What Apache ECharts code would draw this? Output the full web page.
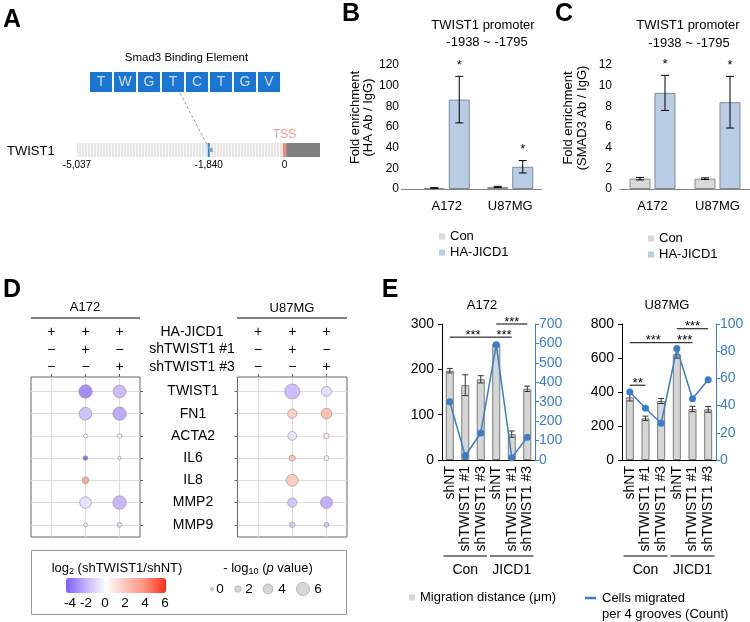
<!DOCTYPE html>
<html>
<head>
<meta charset="utf-8">
<title>JICD1 / TWIST1</title>
<script src="https://cdn.jsdelivr.net/npm/echarts@6/dist/echarts.min.js"></script>
<style>
  html, body { margin: 0; padding: 0; background: #fff; }
  #chart { width: 750px; height: 622px; }
</style>
</head>
<body>
<div id="chart"></div>
<script>
// ---------- A : promoter map ----------
var sbeLetters = ['T', 'W', 'G', 'T', 'C', 'T', 'G', 'V'];
var promoterStart = -5037;
var sbeSite = -1840;
var tssSite = 0;
var geneBodyEnd = 860;
var promoterTicks = [-5037, -1840, 0];

// ---------- B / C : ChIP enrichment ----------
var chipCells = ['A172', 'U87MG'];
var haCon = [1.0, 2.0];
var haConErr = [0.3, 0.6];
var haJicd = [86.5, 21.5];
var haJicdErr = [22.5, 6];
var haStars = ['*', '*'];
var smadCon = [1.0, 1.0];
var smadConErr = [0.12, 0.08];
var smadJicd = [9.3, 8.4];
var smadJicdErr = [1.7, 2.5];
var smadStars = ['*', '*'];

// ---------- D : bubble plot ----------
var geneNames = ['TWIST1', 'FN1', 'ACTA2', 'IL6', 'IL8', 'MMP2', 'MMP9'];
var condRows = ['HA-JICD1', 'shTWIST1 #1', 'shTWIST1 #3'];
var condSigns = [['+', '+', '+'], ['\u2212', '+', '\u2212'], ['\u2212', '\u2212', '+']];
// [column, gene row, log2(shTWIST1/shNT), -log10 p]
var a172Bubbles = [
  [1, 0, -2.9, 6.1], [1, 1, -1.6, 5.7], [1, 2, -0.3, 0.6], [1, 3, -3.8, 1.0],
  [1, 4, 3.0, 2.2], [1, 5, -0.8, 5.1], [1, 6, -0.7, 0.6],
  [2, 0, -1.8, 5.7], [2, 1, -2.2, 6.1], [2, 2, -0.3, 1.0], [2, 3, -0.7, 0.2],
  [2, 5, -1.9, 6.1], [2, 6, -1.0, 1.0]
];
var u87Bubbles = [
  [1, 0, -1.7, 7.1], [1, 1, 1.7, 3.7], [1, 2, -0.8, 3.4], [1, 3, 2.0, 1.8],
  [1, 4, 1.8, 5.3], [1, 5, -1.5, 3.7], [1, 6, -1.4, 1.4],
  [2, 0, -0.9, 4.1], [2, 1, 2.2, 4.5], [2, 2, 0.8, 1.4], [2, 3, 0.6, 1.2],
  [2, 5, -2.1, 5.3], [2, 6, -1.6, 1.0]
];
var colorTicks = [-4, -2, 0, 2, 4, 6];
var sizeTicks = [0, 2, 4, 6];

// ---------- E : migration ----------
var migCats = ['shNT', 'shTWIST1 #1', 'shTWIST1 #3', 'shNT', 'shTWIST1 #1', 'shTWIST1 #3'];
var migGroups = ['Con', 'JICD1'];
var migGroupSpans = [[0, 2], [3, 5]];
var a172Dist = [197, 165, 178, 256, 57, 157];
var a172DistErr = [5, 23, 8, 2, 7, 6];
var a172Cells = [300, 22, 139, 593, 12, 117];
var u87Dist = [369, 245, 347, 622, 300, 298];
var u87DistErr = [22, 13, 15, 23, 16, 17];
var u87Cells = [50, 38, 27, 82, 45, 59];
// [from, to, height on distance axis, stars]
var a172Sig = [[0, 3, 271, '***'], [3, 4, 271, '***'], [3, 5, 300, '***']];
var u87Sig = [[0, 1, 440, '**'], [0, 3, 690, '***'], [3, 4, 690, '***'], [3, 5, 772, '***']];

var FONT = '"Liberation Sans", Arial, Helvetica, sans-serif';
var BLUE = '#3a7dc9';

function pSize(p) { return 3 + 1.7 * p; }

var gfx = [];
function addText(x, y, text, size, more, elMore) {
  var style = { text: text, fontSize: size, fontFamily: FONT, fill: '#000',
    align: 'center', verticalAlign: 'middle', textAlign: 'center', textVerticalAlign: 'middle' };
  for (var k in (more || {})) style[k] = more[k];
  if (more && more.align) style.textAlign = more.align;
  var el = { type: 'text', x: x, y: y, silent: true, style: style };
  for (var j in (elMore || {})) el[j] = elMore[j];
  gfx.push(el);
}
function addLine(x1, y1, x2, y2, color, width) {
  gfx.push({ type: 'line', silent: true, shape: { x1: x1, y1: y1, x2: x2, y2: y2 },
    style: { stroke: color || '#000', lineWidth: width || 1 } });
}

// panel letters
addText(12, 20.5, 'A', 25, { fontWeight: 'bold' });
addText(351, 14, 'B', 25, { fontWeight: 'bold' });
addText(564, 14, 'C', 25, { fontWeight: 'bold' });
addText(12, 290, 'D', 25, { fontWeight: 'bold' });
addText(390, 290, 'E', 25, { fontWeight: 'bold' });

// A
addText(186.5, 58, 'Smad3 Binding Element', 11.5);
sbeLetters.forEach(function (ch, i) {
  gfx.push({ type: 'rect', silent: true, shape: { x: 90 + 24 * i, y: 72, width: 22, height: 20 },
    style: { fill: '#1976d2' } });
  addText(101 + 24 * i, 82.5, ch, 14, { fill: '#d5dbe3' });
});
addText(7, 151.5, 'TWIST1', 13, { align: 'left' });

// B / C titles and axis names
addText(483, 25, 'TWIST1 promoter', 13);
addText(487, 42.5, '-1938 ~ -1795', 13);
addText(362, 117.5, 'Fold enrichment\n(HA Ab / IgG)', 13, { lineHeight: 13 }, { rotation: Math.PI / 2 });
addLine(401, 189.5, 415, 189.5, '#868686');
addText(688, 25, 'TWIST1 promoter', 13);
addText(689, 43, '-1938 ~ -1795', 13);
addText(575, 118, 'Fold enrichment\n(SMAD3 Ab / IgG)', 13, { lineHeight: 14 }, { rotation: Math.PI / 2 });

// D headers
addText(85, 307, 'A172', 13);
addLine(31, 318, 140, 318);
addText(292, 308, 'U87MG', 13);
addLine(237, 318, 347, 318);
condRows.forEach(function (r, i) { addText(192, 332 + 17.5 * i, r, 14); });

// D legend
gfx.push({ type: 'rect', silent: true, shape: { x: 31.5, y: 550.5, width: 315, height: 64 },
  style: { fill: 'none', stroke: '#9a9a9a', lineWidth: 1 } });
addText(117, 568, 'log{sub|2} (shTWIST1/shNT)', 13,
  { rich: { sub: { fontSize: 9, fontFamily: FONT, verticalAlign: 'bottom', lineHeight: 16 } } });
var colorTickX = [70, 86, 105, 125, 145, 165];
colorTicks.forEach(function (v, i) { addText(colorTickX[i], 603, String(v), 13.5); });
addText(268, 568, '- log{sub|10} ({it|p} value)', 13,
  { rich: { sub: { fontSize: 9, fontFamily: FONT, verticalAlign: 'bottom', lineHeight: 16 },
            it: { fontSize: 13, fontFamily: FONT, fontStyle: 'italic' } } });
var sizeCircleX = [212, 238, 268, 303];
var sizeLabelX = [220, 249, 282, 318];
sizeTicks.forEach(function (p, i) {
  gfx.push({ type: 'circle', silent: true, shape: { cx: sizeCircleX[i], cy: 589, r: pSize(p) / 2 },
    style: { fill: '#d6d6d6', stroke: '#a8a8a8', lineWidth: 0.7 } });
  addText(sizeLabelX[i], 589, String(p), 13.5);
});

// E titles and line legend
addText(482, 305, 'A172', 13);
addText(667, 305, 'U87MG', 13);
addLine(585, 598, 596, 598, BLUE, 2.5);
addText(602, 598, 'Cells migrated', 13, { align: 'left' });
addText(602, 614, 'per 4 grooves (Count)', 13, { align: 'left' });

// ---------- series builders ----------
function chipErrSeries(idx, con, conErr, ha, haErr, stars) {
  var items = [];
  con.forEach(function (v, i) { items.push([i, v - conErr[i], v + conErr[i], -1]); });
  ha.forEach(function (v, i) { items.push([i, v - haErr[i], v + haErr[i], 1]); });
  return {
    type: 'custom', xAxisIndex: idx, yAxisIndex: idx, z: 5, silent: true, data: items,
    renderItem: function (params, api) {
      var cat = api.value(0), side = api.value(3);
      var lo = api.coord([cat, api.value(1)]), hi = api.coord([cat, api.value(2)]);
      var x = lo[0] + side * 12.5;
      var st = { stroke: '#000', lineWidth: 1 };
      var kids = [
        { type: 'line', shape: { x1: x, y1: lo[1], x2: x, y2: hi[1] }, style: st },
        { type: 'line', shape: { x1: x - 4, y1: hi[1], x2: x + 4, y2: hi[1] }, style: st },
        { type: 'line', shape: { x1: x - 4, y1: lo[1], x2: x + 4, y2: lo[1] }, style: st }
      ];
      if (side > 0 && stars[cat]) {
        kids.push({ type: 'text', x: x, y: hi[1] - 11, style: { text: stars[cat], fontSize: 13,
          fontFamily: FONT, fill: '#000', align: 'center', verticalAlign: 'middle' } });
      }
      return { type: 'group', children: kids };
    }
  };
}

function chipBars(idx, con, ha) {
  var common = { type: 'bar', xAxisIndex: idx, yAxisIndex: idx, barWidth: 21, barGap: '19%', silent: true };
  return [
    Object.assign({ name: 'Con', data: con,
      itemStyle: { color: '#d9d9d9', borderColor: '#8c8c8c', borderWidth: 1 } }, common),
    Object.assign({ name: 'HA-JICD1', data: ha,
      itemStyle: { color: '#b9cde5', borderColor: '#7f8a99', borderWidth: 1 } }, common)
  ];
}

function migrationSeries(xi, yl, yr, dist, distErr, cells, sig) {
  return [
    { type: 'bar', name: 'Migration distance (\u03bcm)', xAxisIndex: xi, yAxisIndex: yl, data: dist,
      barWidth: 8, silent: true,
      itemStyle: { color: '#d6d6d6', borderColor: '#7a7a7a', borderWidth: 1 } },
    { type: 'custom', xAxisIndex: xi, yAxisIndex: yl, z: 4, silent: true,
      data: dist.map(function (v, i) { return [i, v - distErr[i], v + distErr[i]]; }),
      renderItem: function (params, api) {
        var lo = api.coord([api.value(0), api.value(1)]), hi = api.coord([api.value(0), api.value(2)]);
        var st = { stroke: '#333', lineWidth: 1 };
        return { type: 'group', children: [
          { type: 'line', shape: { x1: lo[0], y1: lo[1], x2: hi[0], y2: hi[1] }, style: st },
          { type: 'line', shape: { x1: hi[0] - 3, y1: hi[1], x2: hi[0] + 3, y2: hi[1] }, style: st },
          { type: 'line', shape: { x1: lo[0] - 3, y1: lo[1], x2: lo[0] + 3, y2: lo[1] }, style: st }
        ] };
      } },
    { type: 'line', name: 'Cells migrated per 4 grooves (Count)', xAxisIndex: xi, yAxisIndex: yr,
      data: cells, z: 6, silent: true, symbol: 'circle', symbolSize: 7,
      lineStyle: { color: BLUE, width: 1.5 }, itemStyle: { color: BLUE } },
    { type: 'custom', xAxisIndex: xi, yAxisIndex: yl, z: 7, silent: true,
      data: sig.map(function (s) { return [s[0], s[2]]; }),
      renderItem: function (params, api) {
        var s = sig[params.dataIndex];
        var p0 = api.coord([s[0], s[2]]), p1 = api.coord([s[1], s[2]]);
        return { type: 'group', children: [
          { type: 'line', shape: { x1: p0[0], y1: p0[1], x2: p1[0], y2: p1[1] },
            style: { stroke: '#000', lineWidth: 1 } },
          { type: 'text', x: (p0[0] + p1[0]) / 2, y: p0[1] - 2,
            style: { text: s[3], fontSize: 13, fontFamily: FONT, fill: '#000',
              align: 'center', verticalAlign: 'middle' } }
        ] };
      } },
    { type: 'custom', xAxisIndex: xi, yAxisIndex: yl, silent: true,
      data: migGroupSpans.map(function (g) { return [g[0], 0]; }),
      renderItem: function (params, api) {
        var g = migGroupSpans[params.dataIndex];
        var band = api.size([1, 0])[0];
        var base = api.coord([0, 0])[1];
        var xa = api.coord([g[0], 0])[0] - band / 2 + 1.5;
        var xb = api.coord([g[1], 0])[0] + band / 2 - 1.5;
        return { type: 'group', children: [
          { type: 'line', shape: { x1: xa, y1: base + 96, x2: xb, y2: base + 96 },
            style: { stroke: '#000', lineWidth: 1 } },
          { type: 'text', x: (xa + xb) / 2, y: base + 110,
            style: { text: migGroups[params.dataIndex], fontSize: 14, fontFamily: FONT, fill: '#000',
              align: 'center', verticalAlign: 'middle' } }
        ] };
      } }
  ];
}

function chipY(idx, max, step, margin) {
  return { gridIndex: idx, type: 'value', min: 0, max: max, interval: step,
    axisLine: { show: false }, axisTick: { show: false }, splitLine: { show: false },
    axisLabel: { fontSize: 12, color: '#000', margin: margin } };
}
function chipX(idx) {
  return { gridIndex: idx, type: 'category', data: chipCells,
    axisLine: { lineStyle: { color: '#868686' } },
    axisTick: { inside: true, length: 5, lineStyle: { color: '#868686' } },
    axisLabel: { fontSize: 13, color: '#000', margin: 11 } };
}
function bubbleX(idx) {
  return { gridIndex: idx, type: 'value', min: -0.6, max: 2.6, position: 'top',
    axisLine: { show: false, onZero: false },
    axisTick: { show: true, customValues: [0, 1, 2], length: 3, lineStyle: { color: '#666' } },
    axisLabel: { customValues: [0, 1, 2], fontSize: 14, color: '#000', margin: 1, lineHeight: 17.5,
      formatter: function (v) {
        if (v !== Math.round(v)) return '';
        return condSigns.map(function (r) { return r[v]; }).join('\n');
      } },
    splitLine: { show: true, lineStyle: { color: '#dcdcdc' } } };
}
function bubbleY(idx, pos, showLabels) {
  return { gridIndex: idx, type: 'value', inverse: true, min: -0.65, max: 6.55, position: pos,
    axisLine: { show: false, onZero: false },
    axisTick: { show: true, customValues: [0, 1, 2, 3, 4, 5, 6], length: 3, lineStyle: { color: '#666' } },
    axisLabel: { show: showLabels, customValues: [0, 1, 2, 3, 4, 5, 6], fontSize: 14, color: '#000',
      align: 'center', margin: 53,
      formatter: function (v) { return v === Math.round(v) ? (geneNames[v] || '') : ''; } },
    splitLine: { show: true, lineStyle: { color: '#dcdcdc' } } };
}
function migX(idx) {
  return { gridIndex: idx, type: 'category', data: migCats,
    axisLine: { lineStyle: { color: '#000' } },
    axisTick: { inside: true, length: 3, interval: 0, lineStyle: { color: '#000' } },
    axisLabel: { rotate: 90, interval: 0, fontSize: 14, color: '#000', margin: 6 } };
}
function migY(idx, pos, max, step, color) {
  return { gridIndex: idx, type: 'value', position: pos, min: 0, max: max, interval: step,
    axisLine: { show: true, lineStyle: { color: color } },
    axisTick: { show: true, length: 4, lineStyle: { color: color } },
    splitLine: { show: false },
    axisLabel: { fontSize: 14, color: color, margin: pos === 'left' ? 8 : 4 } };
}

var series = [
  { type: 'custom', xAxisIndex: 0, yAxisIndex: 0, silent: true, data: [[promoterStart, 0]],
    renderItem: function (params, api) {
      var top = api.coord([promoterStart, 1])[1], bottom = api.coord([promoterStart, 0])[1];
      var h = bottom - top;
      var x0 = api.coord([promoterStart, 0])[0];
      var xT0 = api.coord([tssSite - 40, 0])[0], xT1 = api.coord([tssSite + 40, 0])[0];
      var xEnd = api.coord([geneBodyEnd, 0])[0];
      var xS = api.coord([sbeSite, 0])[0];
      var kids = [{ type: 'rect', shape: { x: x0, y: top, width: xT0 - x0, height: h }, style: { fill: '#e6e6e6' } }];
      for (var x = x0 + 1.5; x < xT0 - 1; x += 3) {
        kids.push({ type: 'line', shape: { x1: x, y1: top, x2: x, y2: bottom }, style: { stroke: '#f6f6f6', lineWidth: 1 } });
      }
      kids.push({ type: 'rect', shape: { x: xT0, y: top, width: xT1 - xT0, height: h }, style: { fill: '#f28b7c' } });
      kids.push({ type: 'rect', shape: { x: xT1, y: top, width: xEnd - xT1, height: h }, style: { fill: '#808080' } });
      kids.push({ type: 'rect', shape: { x: xS - 1, y: top, width: 2, height: h }, style: { fill: '#1e88e5' } });
      kids.push({ type: 'line', shape: { x1: 180, y1: 93, x2: xS + 1, y2: top + 7 },
        style: { stroke: '#9e9e9e', lineWidth: 1, lineDash: [3, 2] } });
      kids.push({ type: 'rect', shape: { x: xS + 0.5, y: top + 5, width: 3.5, height: 4 }, style: { fill: '#9e9e9e' } });
      kids.push({ type: 'text', x: (xT0 + xT1) / 2, y: top - 8,
        style: { text: 'TSS', fontSize: 12, fontFamily: FONT, fill: '#f4998c', align: 'center', verticalAlign: 'middle' } });
      return { type: 'group', children: kids };
    } }
];
series = series.concat(chipBars(1, haCon, haJicd));
series.push(chipErrSeries(1, haCon, haConErr, haJicd, haJicdErr, haStars));
series = series.concat(chipBars(2, smadCon, smadJicd));
series.push(chipErrSeries(2, smadCon, smadConErr, smadJicd, smadJicdErr, smadStars));
var bubbleSeriesStart = series.length;
[a172Bubbles, u87Bubbles].forEach(function (d, i) {
  series.push({ type: 'scatter', xAxisIndex: 3 + i, yAxisIndex: 3 + i, data: d, silent: true,
    symbol: 'circle', symbolSize: function (val) { return pSize(val[3]); },
    itemStyle: { borderColor: '#9a9a9a', borderWidth: 0.7, opacity: 1 } });
});
series = series.concat(migrationSeries(5, 5, 6, a172Dist, a172DistErr, a172Cells, a172Sig));
series = series.concat(migrationSeries(6, 7, 8, u87Dist, u87DistErr, u87Cells, u87Sig));

var chipLegend = { data: ['Con', 'HA-JICD1'], orient: 'vertical', icon: 'rect', itemWidth: 6, itemHeight: 6,
  itemGap: 3, padding: 0, selectedMode: false, itemStyle: { borderWidth: 0 },
  textStyle: { fontSize: 13, color: '#000', fontFamily: FONT } };

var myChart = echarts.init(document.getElementById('chart'));
myChart.setOption({
  animation: false,
  backgroundColor: '#fff',
  textStyle: { fontFamily: FONT, color: '#000' },
  grid: [
    { left: 77, top: 143, width: 243, height: 14 },
    { left: 415, top: 65, width: 127, height: 124 },
    { left: 620, top: 65, width: 130, height: 124 },
    { left: 31, top: 377, width: 109, height: 160, show: true, borderColor: '#666', borderWidth: 1 },
    { left: 237.5, top: 377, width: 109.5, height: 160, show: true, borderColor: '#666', borderWidth: 1 },
    { left: 442, top: 324, width: 93, height: 136 },
    { left: 622, top: 324, width: 94, height: 136 }
  ],
  xAxis: [
    { gridIndex: 0, type: 'value', min: promoterStart, max: geneBodyEnd,
      axisLine: { show: false }, axisTick: { show: false }, splitLine: { show: false },
      axisLabel: { customValues: promoterTicks, fontSize: 10, color: '#000', margin: 3,
        formatter: function (v) { return v.toLocaleString('en-US'); } } },
    chipX(1), chipX(2), bubbleX(3), bubbleX(4), migX(5), migX(6)
  ],
  yAxis: [
    { gridIndex: 0, type: 'value', min: 0, max: 1, show: false },
    chipY(1, 120, 20, 16), chipY(2, 12, 2, 8),
    bubbleY(3, 'right', true), bubbleY(4, 'left', false),
    migY(5, 'left', 300, 100, '#000'), migY(5, 'right', 700, 100, BLUE),
    migY(6, 'left', 800, 200, '#000'), migY(6, 'right', 100, 20, BLUE)
  ],
  legend: [
    Object.assign({ left: 439, top: 230 }, chipLegend),
    Object.assign({ left: 648, top: 232 }, chipLegend),
    { data: ['Migration distance (\u03bcm)'], left: 409, top: 591, icon: 'rect', itemWidth: 6, itemHeight: 6,
      padding: 0, selectedMode: false, itemStyle: { borderWidth: 0 },
      textStyle: { fontSize: 13, color: '#000', fontFamily: FONT } }
  ],
  visualMap: {
    type: 'continuous', min: -4, max: 6, dimension: 2,
    seriesIndex: [bubbleSeriesStart, bubbleSeriesStart + 1],
    orient: 'horizontal', left: 66, top: 578, itemWidth: 15, itemHeight: 100, padding: 0,
    calculable: false, hoverLink: false, text: null,
    inRange: { color: ['#7f5dff', '#c4b3ff', '#ffffff', '#fdc4b8', '#ff8e78', '#ff2b1c'] }
  },
  series: series,
  graphic: { elements: gfx }
});
</script>
</body>
</html>
